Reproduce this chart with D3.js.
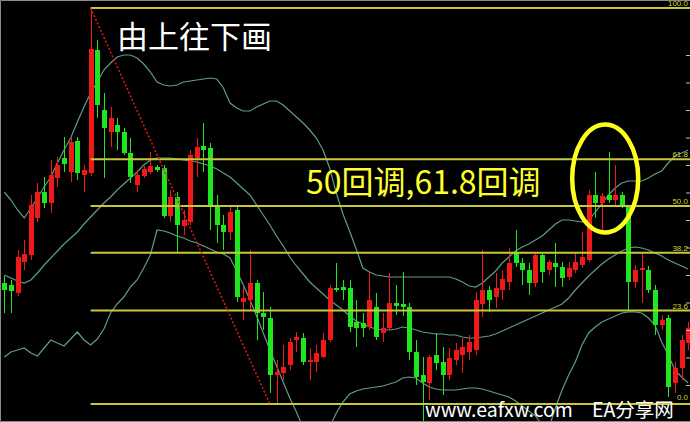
<!DOCTYPE html>
<html><head><meta charset="utf-8">
<script src="https://cdnjs.cloudflare.com/ajax/libs/d3/7.8.5/d3.min.js"></script>
<style>html,body{margin:0;padding:0;background:#000;overflow:hidden}</style>
</head><body>
<svg id="chart" width="690" height="422"></svg>
<script>
// ---- data ----
const categories = d3.range(104).map(i => "K" + (i + 1));
const open = [217,215,207,238,245,282,308,297,322,342, 328,359,325,327,450,390,368,375,368,347,
  315,324,328,333,332,284,303,274,278,342, 354,352,295,275,268,290,198,200,217,187,
  182,125,127,135,160,162,138,138,143,160, 212,213,212,178,177,173,193,167,172,197,
  196,193,148,125,117,145,138,125,140,145, 148,150,196,210,203,210,218,248,237,230,
  217,245,230,237,233,223,230,235,240,305, 297,305,300,305,293,218,230,230,210,175,
  182,117,132,157];
const high = [224,220,250,260,305,317,323,340,343,363, 363,363,335,492,460,407,393,382,372,362,
  330,334,348,335,335,310,308,290,350,362, 377,357,305,285,295,295,213,250,220,208,
  193,140,155,162,168,167,152,155,167,215, 237,220,220,200,187,228,207,187,227,215,
  228,197,160,143,145,167,153,152,157,162, 165,208,250,214,227,230,252,270,242,237,
  248,247,240,257,238,238,247,268,310,328, 307,348,335,308,295,235,247,234,215,185,
  185,138,165,178];
const low = [187,187,204,230,240,278,292,287,313,328, 318,320,308,324,382,322,353,350,345,317,
  308,322,326,328,282,278,247,265,275,323, 328,270,257,250,260,198,180,190,160,170,
  107,96,120,130,148,135,120,128,142,158, 208,200,168,153,163,170,160,158,170,185,
  184,140,115,75,100,130,105,120,135,127, 140,145,183,188,192,200,210,233,215,205,
  213,217,225,213,213,220,227,232,238,282, 270,297,293,292,190,212,197,207,165,170,
  103,107,120,150];
const close = [210,209,243,246,295,308,297,325,335,336, 358,327,330,451,395,372,382,368,347,323,
  325,331,334,330,284,303,275,280,345,353, 350,293,275,268,288,203,202,217,187,183,
  125,128,133,158,163,138,140,147,160,212, 210,210,173,172,172,200,163,172,197,194,
  193,148,123,118,143,137,125,142,150,153, 158,200,210,200,212,221,237,237,230,217,
  245,228,238,233,222,232,238,243,305,297, 304,300,305,293,218,230,232,210,175,180,
  113,132,160,172];
const upperBand = [308,300,290,282,292,302,313,323,337,350, 362,378,393,407,418,430,437,443,445,445,
  442,436,428,418,415,414,415,418,419,420, 421,422,421,412,397,392,389,389,393,396,
  399,399,395,389,383,377,370,362,350,332, 307,286,269,251,232,228,225,224,223,223,
  223,223,223,223,223,223,223,223,221,218, 214,213,217,223,229,237,243,249,253,256,
  260,264,270,276,280,280,279,278,279,288, 296,305,312,317,319,319,319,322,326,329,
  337,344,347,350];
const middleBand = [225,222,219,217,220,227,235,242,249,256, 262,268,276,283,290,297,303,310,316,322,
  328,335,340,342,342,342,341,340,339,338, 336,334,331,327,323,317,311,305,295,285,
  275,264,254,243,234,226,218,212,206,200, 195,190,184,179,176,173,171,170,170,171,
  173,172,170,168,167,166,166,165,165,163, 162,162,163,164,166,169,172,175,178,181,
  184,187,190,193,196,202,210,217,224,230, 236,241,245,249,252,253,252,250,247,244,
  240,237,234,231];
const lowerBand = [143,148,150,152,147,144,152,160,157,154, 161,168,160,155,161,171,187,196,203,213,
  220,232,245,270,269,267,264,262,259,257, 254,251,248,246,242,229,215,200,184,167,
  150,134,118,102,88,72,60,55,60,73, 87,98,106,109,111,112,113,114,116,118,
  122,123,122,117,113,111,110,110,110,111, 112,112,111,109,107,105,103,99,94,89,
  84,75,72,92,110,125,138,155,167,173, 178,181,184,187,188,188,187,182,175,158,
  145,130,123,117];
const fibLevels = [0, 23.6, 38.2, 50, 61.8, 100];
const fibLabels = ["0.0", "23.6", "38.2", "50.0", "61.8", "100.0"];
const fibHigh = 492, fibLow = 96;
const fibStartBar = "K14", fibEndBar = "K41";
const priceTicks = [445, 417.5, 390, 362.5, 335, 307.5, 280, 252.5, 225, 197.5, 170, 142.5, 115];
const highlightBars = ["K91", "K92"], highlightPrice = 321.5;
const titleText = "由上往下画";
const noteText = "50回调,61.8回调";
const siteText = "www.eafxw.com";
const brandText = "EA分享网";

// ---- drawing ----
const W = 690, H = 422;
const svg = d3.select("#chart");
svg.append("rect").attr("width", W).attr("height", H).attr("fill", "#000");

const x = d3.scalePoint().domain(categories).range([4.3, 688.2]);
const y = d3.scaleLinear().domain([78, 500]).range([H, 0]);

svg.append("defs").append("clipPath").attr("id", "plot")
  .append("rect").attr("x", 1).attr("y", 1).attr("width", W).attr("height", 420);
const g = svg.append("g").attr("clip-path", "url(#plot)");

// Bollinger bands
const bandLine = d3.line().x((d, i) => x(categories[i])).y(d => y(d)).curve(d3.curveLinear);
[upperBand, middleBand, lowerBand].forEach(b => {
  g.append("path").attr("d", bandLine(b)).attr("fill", "none")
    .attr("stroke", "#5f9c88").attr("stroke-width", 1.2);
});

// candles
const RED = "#f01818", GREEN = "#1fe61f";
const bars = categories.map((c, i) => ({c, o: open[i], h: high[i], l: low[i], cl: close[i]}));
const cg = g.append("g");
cg.selectAll("line.wick").data(bars).join("line")
  .attr("x1", d => Math.round(x(d.c)) + 0.5).attr("x2", d => Math.round(x(d.c)) + 0.5)
  .attr("y1", d => y(d.h)).attr("y2", d => y(d.l))
  .attr("stroke", d => d.cl >= d.o ? RED : GREEN).attr("stroke-width", 1);
cg.selectAll("rect.body").data(bars).join("rect")
  .attr("x", d => Math.round(x(d.c)) - 2)
  .attr("width", 5)
  .attr("y", d => y(Math.max(d.o, d.cl)))
  .attr("height", d => Math.max(1.5, Math.abs(y(d.o) - y(d.cl))))
  .attr("fill", d => d.cl >= d.o ? RED : GREEN);

// Fibonacci retracement
const fibX0 = x(fibStartBar);
const fibPrice = p => fibLow + (fibHigh - fibLow) * p / 100;
g.selectAll("line.fib").data(fibLevels).join("line")
  .attr("x1", fibX0).attr("x2", W)
  .attr("y1", d => y(fibPrice(d))).attr("y2", d => y(fibPrice(d)))
  .attr("stroke", "#c8c83c").attr("stroke-width", 2);
g.selectAll("text.fib").data(fibLevels).join("text")
  .attr("x", 688).attr("y", d => y(fibPrice(d)) - (d === 0 ? 4 : 2))
  .attr("text-anchor", "end")
  .attr("font-family", "Liberation Sans, Arial, sans-serif").attr("font-size", 8)
  .attr("fill", "#d2d23c")
  .text((d, i) => fibLabels[i]);
g.append("line")
  .attr("x1", x(fibStartBar)).attr("y1", y(fibHigh))
  .attr("x2", x(fibEndBar)).attr("y2", y(fibLow))
  .attr("stroke", "#e01c1c").attr("stroke-width", 1.5).attr("stroke-dasharray", "2,2");

// right price-axis ticks (axis itself is cropped)
const ax = svg.append("g").attr("transform", "translate(686,0)")
  .call(d3.axisRight(y).tickValues(priceTicks).tickSize(4).tickFormat(""));
ax.select(".domain").remove();
ax.selectAll("line").attr("stroke", "#c0c0c0");

// frame
svg.append("path").attr("d", `M${W},0.5H0.5V421.5H${W}`)
  .attr("fill", "none").attr("stroke", "#8a8a8a").attr("stroke-width", 1);

// highlight ellipse
svg.append("ellipse")
  .attr("cx", (x(highlightBars[0]) + x(highlightBars[1])) / 2)
  .attr("cy", y(highlightPrice))
  .attr("rx", 33).attr("ry", 54)
  .attr("fill", "none").attr("stroke", "#ffff1e").attr("stroke-width", 4.5);

// annotations
const cjk = "'Noto Sans CJK SC', 'Noto Sans', sans-serif";
svg.append("text").attr("x", 117).attr("y", 48).attr("font-family", cjk)
  .attr("font-size", 31).attr("fill", "#ffffff").text(titleText);
svg.append("text").attr("x", 306).attr("y", 194).attr("font-family", cjk)
  .attr("font-size", 32).attr("fill", "#ffff2a").text(noteText);
svg.append("text").attr("x", 425).attr("y", 417).attr("font-family", cjk)
  .attr("font-size", 19.5).attr("fill", "#ffffff").text(siteText);
svg.append("text").attr("x", 592).attr("y", 417).attr("font-family", cjk)
  .attr("font-size", 19.5).attr("fill", "#ffffff").text(brandText);
</script>
</body></html>
